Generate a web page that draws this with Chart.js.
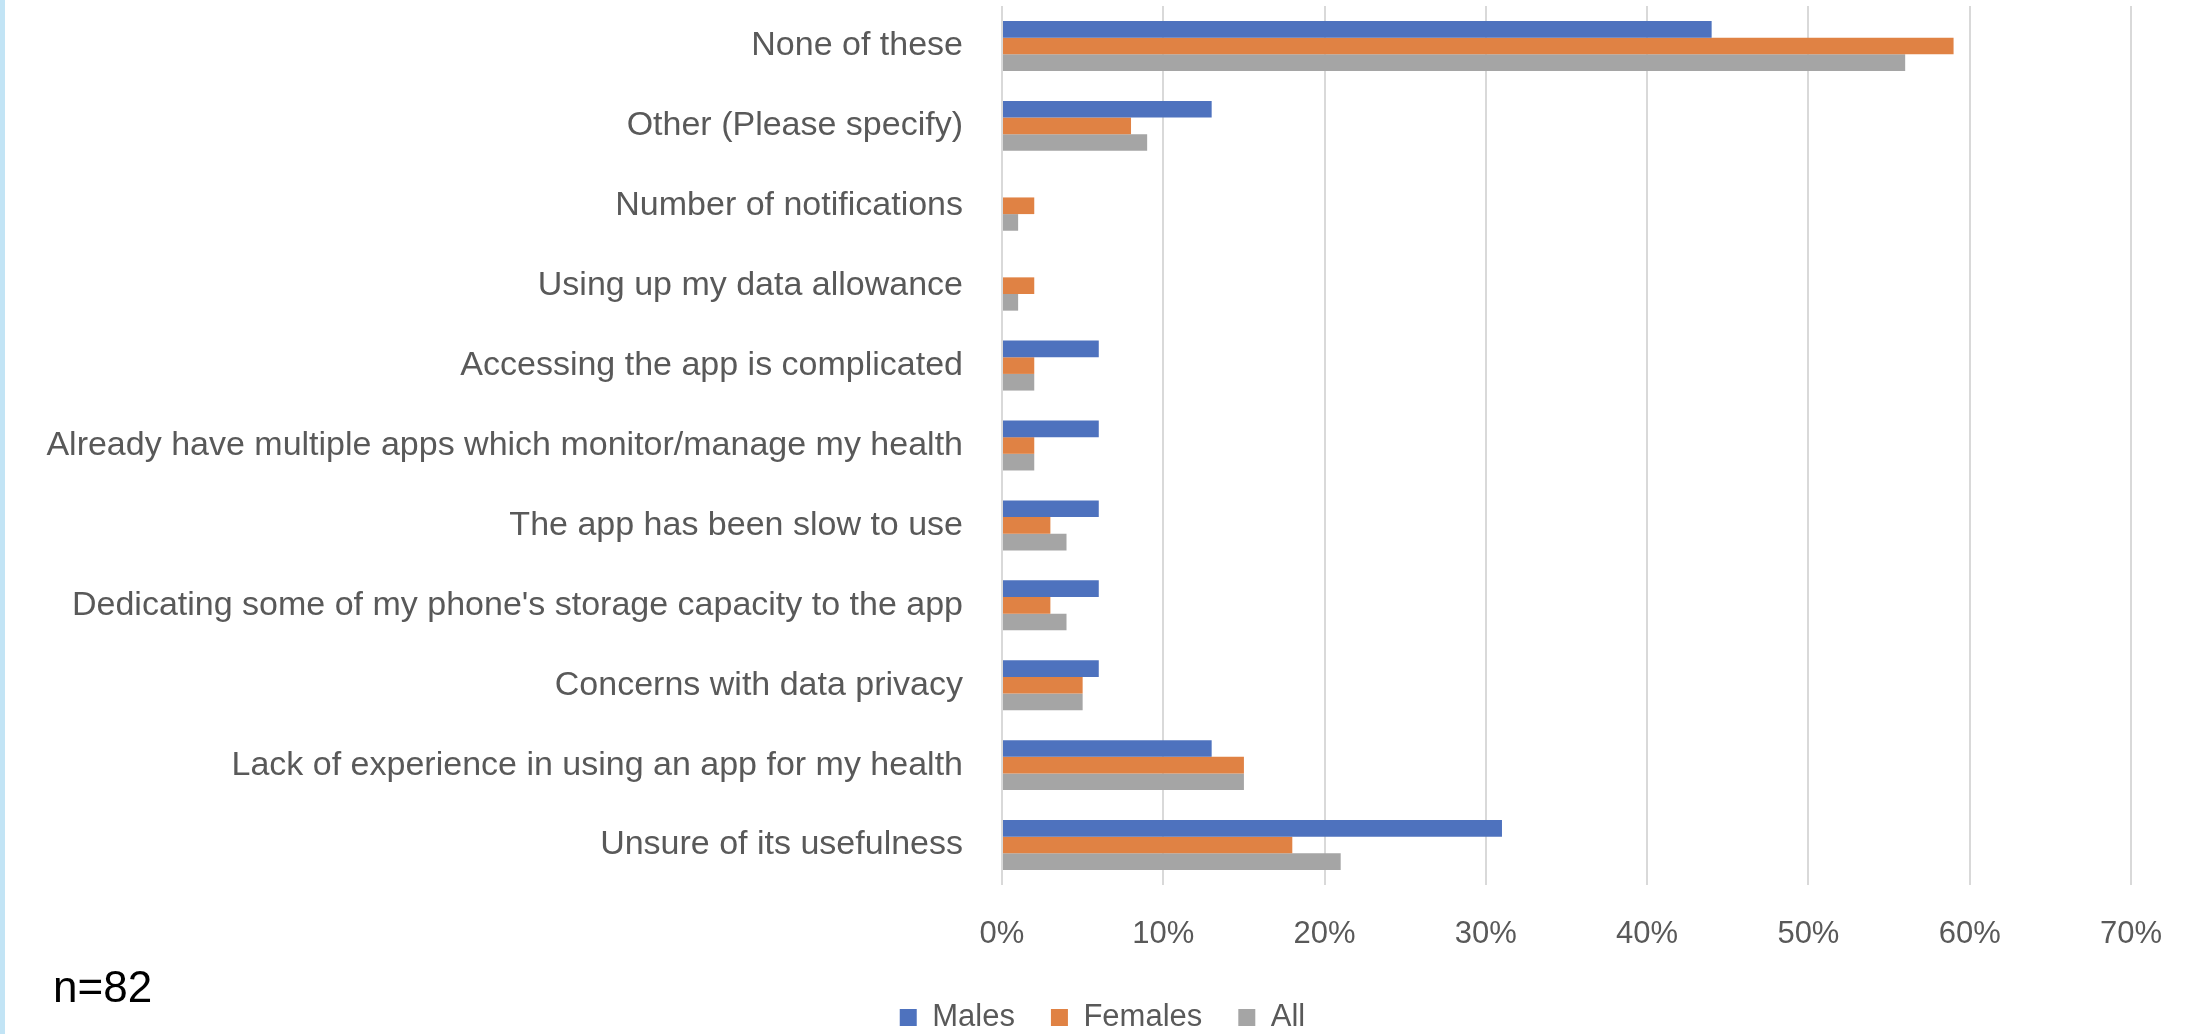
<!DOCTYPE html>
<html>
<head>
<meta charset="utf-8">
<script src="https://cdn.jsdelivr.net/npm/chart.js@4/dist/chart.umd.min.js"></script>
<style>
  html, body { margin: 0; padding: 0; background: #fff; overflow: hidden; }
  #wrap { position: relative; width: 2193px; height: 1034px; }
  #strip { position: absolute; left: 0; top: 0; width: 5px; height: 1034px; background: #c2e4f5; }
  #note { position: absolute; left: 53px; top: 965px; font: 44px "Liberation Sans", Arial, sans-serif; line-height: 1; color: #000; }
</style>
</head>
<body>
<div id="wrap">
  <canvas id="myChart" width="2193" height="1034"></canvas>
  <div id="strip"></div>
  <div id="note">n=82</div>
</div>
<script>
const labels = [
  'None of these',
  'Other (Please specify)',
  'Number of notifications',
  'Using up my data allowance',
  'Accessing the app is complicated',
  'Already have multiple apps which monitor/manage my health',
  'The app has been slow to use',
  "Dedicating some of my phone's storage capacity to the app",
  'Concerns with data privacy',
  'Lack of experience in using an app for my health',
  'Unsure of its usefulness'
];
const males   = [44, 13, 0, 0, 6, 6, 6, 6, 6, 13, 31];
const females = [59, 8, 2, 2, 2, 2, 3, 3, 5, 15, 18];
const all     = [56, 9, 1, 1, 2, 2, 4, 4, 5, 15, 21];

const textColor = '#595959';

// nudge the legend to the right so it sits where excel put it
const legendShift = {
  id: 'legendShift',
  afterLayout(chart) {
    chart.legend.left += 36;
    chart.legend.right += 36;
  }
};

const data = {
  labels: labels,
  datasets: [
    { label: 'Males', data: males, backgroundColor: '#4e72be' },
    { label: 'Females', data: females, backgroundColor: '#e08244' },
    { label: 'All', data: all, backgroundColor: '#a5a5a5' }
  ]
};

const config = {
  type: 'bar',
  data: data,
  plugins: [legendShift],
  options: {
    indexAxis: 'y',
    responsive: false,
    animation: false,
    datasets: {
      bar: { barPercentage: 1, categoryPercentage: 0.625 }
    },
    layout: { padding: { top: 6, right: 60, bottom: 0, left: 0 } },
    plugins: {
      tooltip: { enabled: false },
      legend: {
        position: 'bottom',
        maxHeight: 68,
        labels: {
          boxWidth: 17,
          boxHeight: 17,
          padding: 36,
          color: textColor,
          font: { family: 'Liberation Sans', size: 31 }
        }
      }
    },
    scales: {
      x: {
        min: 0,
        max: 70,
        ticks: {
          stepSize: 10,
          padding: 31,
          color: textColor,
          font: { family: 'Liberation Sans', size: 31 },
          callback: function(v) { return v + '%'; }
        },
        grid: { color: '#d9d9d9', lineWidth: 2, drawTicks: false },
        border: { display: false },
        afterFit: function(scale) { scale.height = 81; }
      },
      y: {
        ticks: {
          padding: 0,
          color: textColor,
          font: { family: 'Liberation Sans', size: 34, lineHeight: 0.3 }
        },
        grid: { display: false, drawTicks: true, tickLength: 39 },
        border: { display: false },
        afterFit: function(scale) { scale.width = 1002; }
      }
    }
  }
};

const myChart = new Chart(document.getElementById('myChart'), config);
</script>
</body>
</html>
